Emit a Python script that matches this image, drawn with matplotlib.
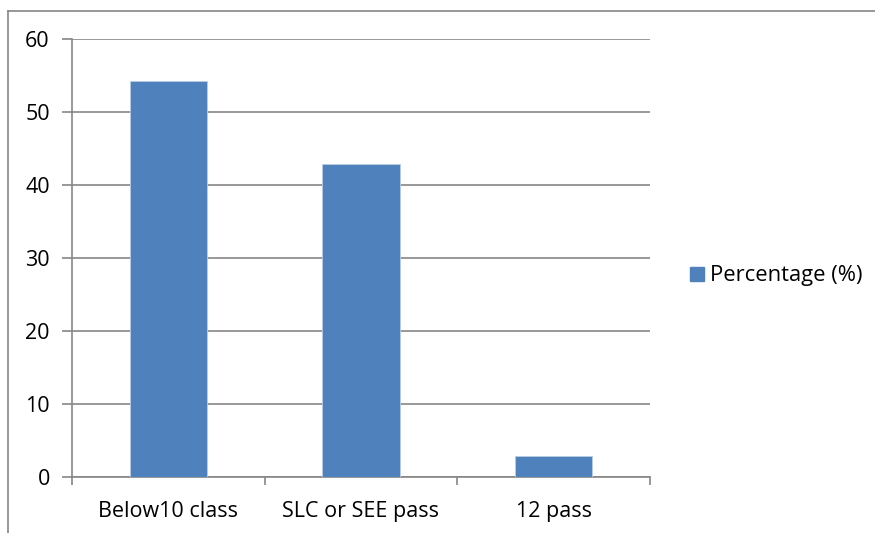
import numpy as np
import matplotlib.pyplot as plt
from matplotlib.patches import Patch
from matplotlib.lines import Line2D

categories = ["Below10 class", "SLC or SEE pass", "12 pass"]
values = [54.29, 42.86, 2.86]
series_name = "Percentage (%)"
yticks = [0, 10, 20, 30, 40, 50, 60]

bar_col = "#4F81BD"
grid_col = "#868686"

plt.rcParams['font.family'] = ['Open Sans', 'DejaVu Sans']

fig = plt.figure(figsize=(8.75, 5.33), dpi=100)
ax = fig.add_axes([72/875, 1-477/533, (650-72)/875, (477-39)/533])

x = np.arange(len(categories))
ax.bar(x, values, width=0.4, color=bar_col, edgecolor="#B9CDE5", linewidth=0.6, zorder=3)

ax.set_xlim(-0.5, len(categories) - 0.5)
ax.set_ylim(0, 60)
ax.set_yticks(yticks)
ax.set_yticklabels([str(t) for t in yticks], fontsize=15.5)
ax.yaxis.grid(True, color=grid_col, linewidth=1.2, zorder=0)

ax.set_xticks(x)
ax.set_xticklabels(categories, fontsize=15.5)
ax.tick_params(axis='x', length=0, pad=17)
ax.tick_params(axis='y', length=7, width=1.2, color=grid_col, pad=9)
# category boundary ticks
ax.set_xticks(np.arange(len(categories) + 1) - 0.5, minor=True)
ax.tick_params(axis='x', which='minor', length=6, width=1.2, color=grid_col, direction='out')

for s in ['top', 'right']:
    ax.spines[s].set_visible(False)
for s in ['left', 'bottom']:
    ax.spines[s].set_color(grid_col)
    ax.spines[s].set_linewidth(1.2)

fig.legend(handles=[Patch(facecolor=bar_col, edgecolor=bar_col, label=series_name)],
           loc='center left', bbox_to_anchor=(690/875, 1-276/533), frameon=False,
           fontsize=15.8, handlelength=0.62, handleheight=0.62, handletextpad=0.3,
           borderpad=0, borderaxespad=0)

# outer chart frame
fig.add_artist(Line2D([8/875, 8/875], [0, 1-11/533], color=grid_col, lw=1.2))
fig.add_artist(Line2D([8/875, 1], [1-11/533, 1-11/533], color=grid_col, lw=1.2))

fig.savefig("out.png", dpi=100)
